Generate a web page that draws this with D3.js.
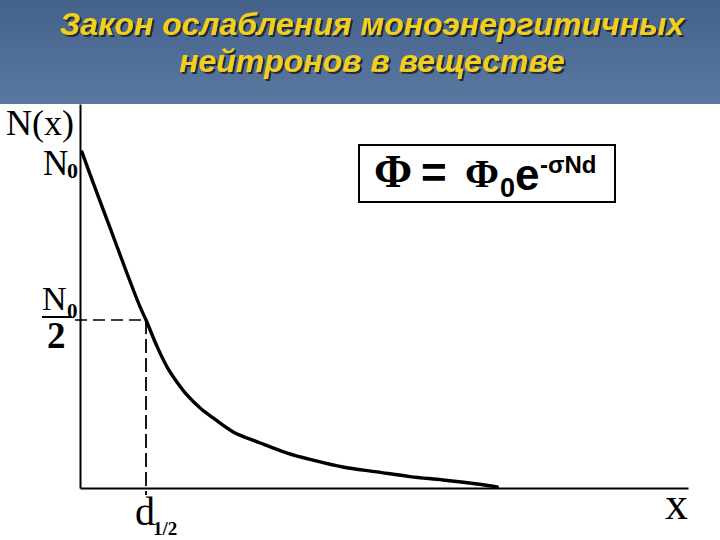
<!DOCTYPE html>
<html>
<head>
<meta charset="utf-8">
<script src="https://cdn.jsdelivr.net/npm/d3@7"></script>
<style>
  html, body { margin: 0; padding: 0; background: #fff; }
  svg { display: block; }
</style>
</head>
<body>
<svg id="chart" width="720" height="540"></svg>
<script>
// ---- data ----
const titleLines = ["Закон ослабления моноэнергитичных", "нейтронов в веществе"];
// thickness in units of the half-value layer d1/2, intensity as N/N0
const curveX = [0.03, 0.20, 0.45, 0.71, 0.91, 1.0, 1.17, 1.32, 1.47, 1.62, 1.82, 2.02, 2.32, 2.73, 3.14, 3.53, 3.98, 4.50, 5.0, 5.5, 6.02, 6.32];
const curveY = [1.0, 0.908, 0.777, 0.640, 0.539, 0.5, 0.420, 0.360, 0.315, 0.277, 0.238, 0.208, 0.167, 0.134, 0.104, 0.083, 0.0625, 0.048, 0.034, 0.024, 0.012, 0.003];
const halfX = 1.0, halfY = 0.5, topY = 1.0;
const xDomain = [0, 9.21];
const yDomain = [0, 1.143];
const yAxisTitle = "N(x)", xAxisTitle = "x";
const nLetter = "N", nSub = "0", halfDen = "2";
const dLetter = "d", dSub = "1/2";

const svg = d3.select("#chart");

// ---- title banner ----
const defs = svg.append("defs");
const g = defs.append("linearGradient").attr("id", "bg").attr("x1", 0).attr("y1", 0).attr("x2", 0).attr("y2", 1);
g.append("stop").attr("offset", "0%").attr("stop-color", "#43618a");
g.append("stop").attr("offset", "100%").attr("stop-color", "#5a78a0");
const f = defs.append("filter").attr("id", "shadow").attr("x", "-5%").attr("y", "-20%").attr("width", "110%").attr("height", "150%");
f.append("feDropShadow").attr("dx", 2).attr("dy", 2).attr("stdDeviation", 0.6)
  .attr("flood-color", "#1a2433").attr("flood-opacity", 0.9);
svg.append("rect").attr("x", 0).attr("y", 0).attr("width", 720).attr("height", 104).attr("fill", "url(#bg)");

const titleFont = "'Liberation Sans', Arial, sans-serif";
titleLines.forEach((t, i) => {
  const by = [35, 72][i];
  svg.append("text").attr("x", 372).attr("y", by).attr("text-anchor", "middle")
    .attr("font-family", titleFont).attr("font-weight", "bold").attr("font-style", "italic")
    .attr("font-size", 32).attr("fill", "#f2cf1e").attr("filter", "url(#shadow)").text(t);
});

// ---- scales ----
const x = d3.scaleLinear().domain(xDomain).range([80, 688]);
const y = d3.scaleLinear().domain(yDomain).range([488, 104]);

// ---- axes (no ticks) ----
svg.append("g").attr("transform", `translate(0,${y(0)})`)
  .call(d3.axisBottom(x).tickValues([]).tickSizeOuter(0))
  .call(s => s.select(".domain").attr("stroke", "#000").attr("stroke-width", 2));
svg.append("g").attr("transform", `translate(${x(0)},0)`)
  .call(d3.axisLeft(y).tickValues([]).tickSizeOuter(0))
  .call(s => s.select(".domain").attr("stroke", "#000").attr("stroke-width", 2));

// ---- dashed guides ----
svg.append("line").attr("x1", x(0) - 5).attr("x2", x(halfX)).attr("y1", y(halfY)).attr("y2", y(halfY))
  .attr("stroke", "#000").attr("stroke-width", 1.3).attr("stroke-dasharray", "12,6");
svg.append("line").attr("x1", x(halfX)).attr("x2", x(halfX)).attr("y1", y(halfY)).attr("y2", y(0) + 7)
  .attr("stroke", "#000").attr("stroke-width", 1.8).attr("stroke-dasharray", "14,5");

// ---- curve ----
const pts = curveX.map((v, i) => [v, curveY[i]]);
svg.append("path").datum(pts)
  .attr("d", d3.line().x(d => x(d[0])).y(d => y(d[1])).curve(d3.curveCatmullRom.alpha(0.5)))
  .attr("fill", "none").attr("stroke", "#000").attr("stroke-width", 3.4)
  .attr("stroke-linejoin", "round").attr("stroke-linecap", "round");

// ---- labels ----
const serif = "'Liberation Serif', 'Times New Roman', serif";
svg.append("text").attr("x", 6).attr("y", 135).attr("font-family", serif).attr("font-size", 36).text(yAxisTitle);

// N0 at top
svg.append("text").attr("x", 43).attr("y", y(topY) + 23).attr("font-family", serif).attr("font-size", 35).text(nLetter);
svg.append("text").attr("x", 67).attr("y", y(topY) + 26).attr("font-family", serif).attr("font-size", 22)
  .attr("font-weight", "bold").text(nSub);

// N0 / 2
svg.append("text").attr("x", 42).attr("y", y(halfY) - 10).attr("font-family", serif).attr("font-size", 34).text(nLetter);
svg.append("text").attr("x", 67).attr("y", y(halfY) - 2).attr("font-family", serif).attr("font-size", 21)
  .attr("font-weight", "bold").text(nSub);
svg.append("line").attr("x1", 42).attr("x2", 72).attr("y1", y(halfY) - 3).attr("y2", y(halfY) - 3)
  .attr("stroke", "#000").attr("stroke-width", 2);
svg.append("text").attr("x", 47).attr("y", y(halfY) + 28).attr("font-family", serif).attr("font-size", 37)
  .attr("font-weight", "bold").text(halfDen);

// d1/2
svg.append("text").attr("x", x(halfX) - 11).attr("y", 525).attr("font-family", serif).attr("font-size", 40).text(dLetter);
svg.append("text").attr("x", x(halfX) + 7).attr("y", 535).attr("font-family", serif).attr("font-size", 19)
  .attr("font-weight", "bold").text(dSub);

// x
svg.append("text").attr("x", 665).attr("y", 519).attr("font-family", serif).attr("font-size", 46)
  .text(xAxisTitle);

// ---- formula box ----
svg.append("rect").attr("x", 359).attr("y", 145).attr("width", 256).attr("height", 57)
  .attr("fill", "#fff").attr("stroke", "#000").attr("stroke-width", 2);
const sans = "'Liberation Sans', Arial, sans-serif";
svg.append("text").attr("x", 374).attr("y", 187).attr("font-family", serif).attr("font-weight", "bold").attr("font-size", 46).text("Φ");
svg.append("text").attr("x", 421).attr("y", 188).attr("font-family", sans).attr("font-weight", "bold").attr("font-size", 44).text("=");
svg.append("text").attr("x", 465).attr("y", 187).attr("font-family", serif).attr("font-weight", "bold").attr("font-size", 41).text("Φ");
svg.append("text").attr("x", 500).attr("y", 197).attr("font-family", sans).attr("font-weight", "bold").attr("font-size", 27).text("0");
svg.append("text").attr("x", 515).attr("y", 190).attr("font-family", sans).attr("font-weight", "bold").attr("font-size", 44).text("e");
svg.append("text").attr("x", 540).attr("y", 173).attr("font-family", sans).attr("font-weight", "bold").attr("font-size", 24).text("-σNd");
</script>
</body>
</html>
